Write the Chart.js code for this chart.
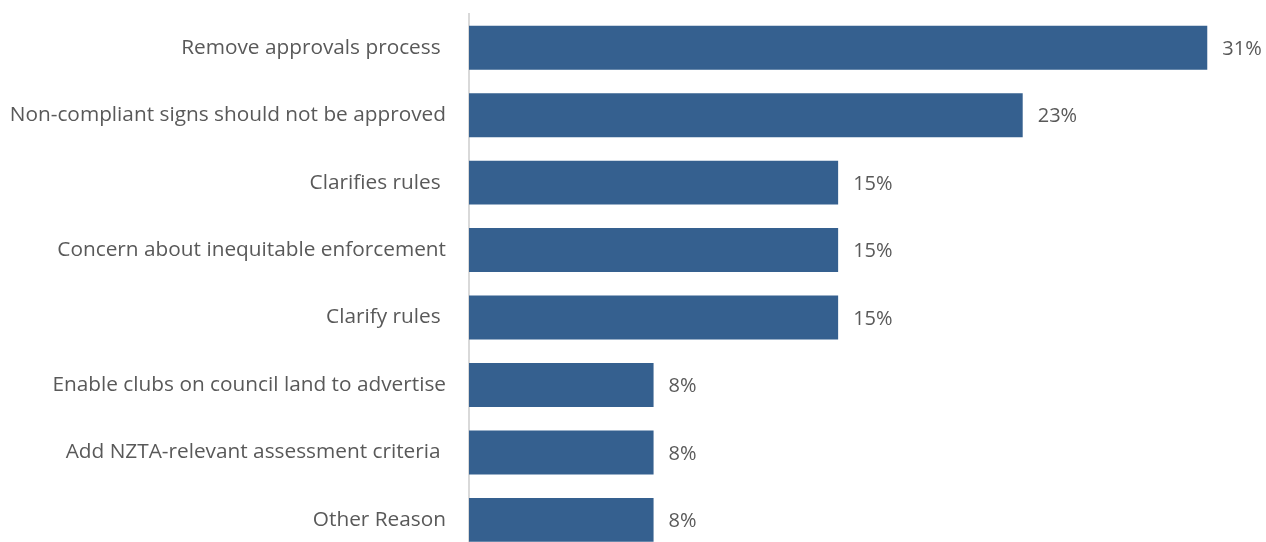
<!DOCTYPE html>
<html>
<head>
<meta charset="utf-8">
<script src="https://cdn.jsdelivr.net/npm/chart.js@4"></script>
<style>
  html, body { margin: 0; padding: 0; background: #ffffff; overflow: hidden; }
  canvas { display: block; }
</style>
</head>
<body>
<canvas id="chart" width="1266" height="564"></canvas>
<script>
// Reasons given, share of respondents (%)
const categories = [
  'Remove approvals process ',
  'Non-compliant signs should not be approved',
  'Clarifies rules ',
  'Concern about inequitable enforcement',
  'Clarify rules ',
  'Enable clubs on council land to advertise',
  'Add NZTA-relevant assessment criteria ',
  'Other Reason'
];
const shares = [30.8, 23.1, 15.4, 15.4, 15.4, 7.7, 7.7, 7.7];
const axisMax = 33;

const FONT = '"Open Sans", "Noto Sans", sans-serif';
const TEXT = '#595959';

// Writes the rounded percentage just past the end of each bar
const valueLabels = {
  id: 'valueLabels',
  afterDatasetsDraw(chart) {
    const ctx = chart.ctx;
    const meta = chart.getDatasetMeta(0);
    ctx.save();
    ctx.font = '20px ' + FONT;
    ctx.fillStyle = TEXT;
    ctx.textAlign = 'left';
    ctx.textBaseline = 'middle';
    meta.data.forEach((bar, i) => {
      const v = chart.data.datasets[0].data[i];
      ctx.fillText(Math.round(v) + '%', bar.x + 15, bar.y + 1.5);
    });
    ctx.restore();
  }
};

new Chart(document.getElementById('chart'), {
  type: 'bar',
  data: {
    labels: categories,
    datasets: [{
      data: shares,
      backgroundColor: '#35608F',
      borderWidth: 0,
      categoryPercentage: 1,
      barPercentage: 0.652
    }]
  },
  options: {
    indexAxis: 'y',
    responsive: false,
    animation: false,
    layout: { padding: { top: 14, bottom: 0, left: 0, right: 6 } },
    plugins: {
      legend: { display: false },
      tooltip: { enabled: false }
    },
    scales: {
      x: {
        display: false,
        min: 0,
        max: axisMax
      },
      y: {
        afterFit(scale) { scale.width = 469; },
        // invisible tick marks keep the labels clear of the axis line
        grid: {
          display: true,
          drawOnChartArea: false,
          drawTicks: true,
          tickLength: 23,
          color: 'rgba(0,0,0,0)'
        },
        border: { display: true, color: '#D9D9D9', width: 2 },
        ticks: {
          padding: 0,
          color: TEXT,
          font: { family: FONT, size: 20.8, lineHeight: 1 }
        }
      }
    }
  },
  plugins: [valueLabels]
});
</script>
</body>
</html>
